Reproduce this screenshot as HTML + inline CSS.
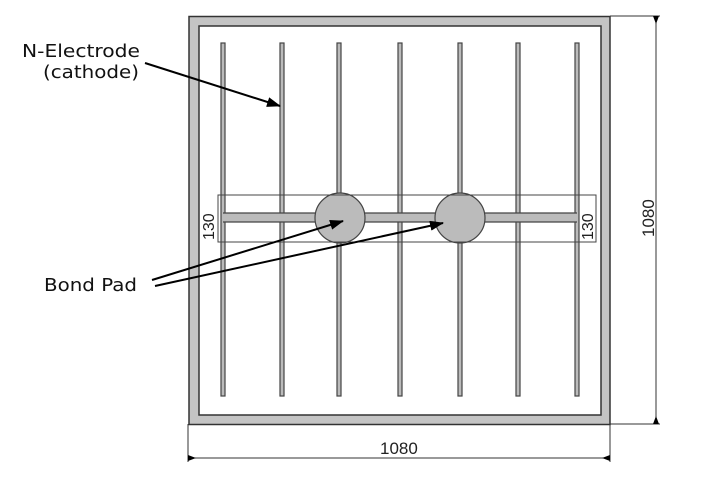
<!DOCTYPE html>
<html><head><style>body{margin:0;background:#fff}svg{display:block}</style></head><body>
<svg width="721" height="486" viewBox="0 0 721 486" xmlns="http://www.w3.org/2000/svg" font-family="Liberation Sans, sans-serif">
<defs><marker id="ah" markerWidth="14" markerHeight="10" refX="13" refY="5" orient="auto" markerUnits="userSpaceOnUse"><path d="M0,0 L14,5 L0,10 Z" fill="#000"/></marker></defs>
<rect x="189" y="16.5" width="421" height="408" fill="#c4c4c4" stroke="#333" stroke-width="1.5"/>
<rect x="199" y="26" width="402" height="389" fill="#fff" stroke="#333" stroke-width="1.5"/>
<g fill="#bbb" stroke="#444" stroke-width="1.2">
<rect x="221" y="43" width="4" height="353"/>
<rect x="280" y="43" width="4" height="353"/>
<rect x="337" y="43" width="4" height="353"/>
<rect x="398" y="43" width="4" height="353"/>
<rect x="458" y="43" width="4" height="353"/>
<rect x="516" y="43" width="4" height="353"/>
<rect x="575" y="43" width="4" height="353"/>
<rect x="223" y="213" width="354" height="9" stroke="none"/>
<line x1="223" y1="213" x2="577" y2="213" fill="none"/>
<line x1="223" y1="222" x2="577" y2="222" fill="none"/>
<circle cx="340" cy="218" r="25"/>
<circle cx="460" cy="218" r="25"/>
</g>
<rect x="218" y="195" width="378" height="47" fill="none" stroke="#444" stroke-width="1"/>
<text x="214" y="240" font-size="16" transform="rotate(-90 214 240)" fill="#222">130</text>
<text x="593" y="240" font-size="16" transform="rotate(-90 593 240)" fill="#222">130</text>
<line x1="610" y1="16" x2="660" y2="16" stroke="#333"/>
<line x1="610" y1="424" x2="660" y2="424" stroke="#333"/>
<line x1="656" y1="16" x2="656" y2="424" stroke="#333"/>
<path d="M653,16 L659,16 L656,24 Z M653,424 L659,424 L656,416 Z" fill="#000"/>
<text x="654" y="237" font-size="17" transform="rotate(-90 654 237)" fill="#222">1080</text>
<line x1="188" y1="424" x2="188" y2="462" stroke="#333"/>
<line x1="610" y1="424" x2="610" y2="462" stroke="#333"/>
<line x1="188" y1="458" x2="610" y2="458" stroke="#333"/>
<path d="M188,455 L188,461 L196,458 Z M610,455 L610,461 L602,458 Z" fill="#000"/>
<text x="380" y="454" font-size="17" fill="#222">1080</text>
<text x="22" y="57" font-size="18" font-family="DejaVu Sans, sans-serif" fill="#111" textLength="118" lengthAdjust="spacingAndGlyphs">N-Electrode</text>
<text x="43" y="78" font-size="18" font-family="DejaVu Sans, sans-serif" fill="#111" textLength="96" lengthAdjust="spacingAndGlyphs">(cathode)</text>
<text x="44" y="291" font-size="18" font-family="DejaVu Sans, sans-serif" fill="#111" textLength="93" lengthAdjust="spacingAndGlyphs">Bond Pad</text>
<line x1="145" y1="63" x2="280" y2="106" stroke="#000" stroke-width="2" marker-end="url(#ah)"/>
<line x1="152" y1="280" x2="343" y2="221" stroke="#000" stroke-width="2" marker-end="url(#ah)"/>
<line x1="155" y1="286" x2="443" y2="223" stroke="#000" stroke-width="2" marker-end="url(#ah)"/>
</svg>
</body></html>
